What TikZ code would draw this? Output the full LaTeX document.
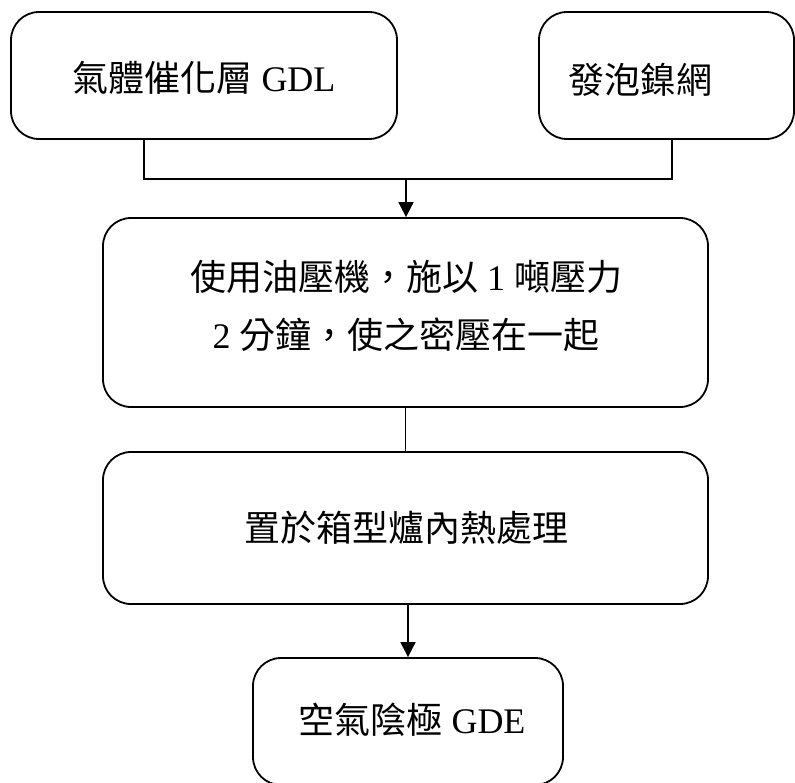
\documentclass[tikz,border=0pt]{standalone}
\usepackage{fontspec}
\setmainfont{Liberation Serif}
\newfontfamily\cjk{Noto Sans CJK TC}
\usetikzlibrary{arrows.meta}

\tikzset{
  box/.style={draw=black, line width=1.8pt, rounded corners=28pt, rectangle,
              inner sep=0pt, fill=white},
  lbl/.style={inner sep=0pt, font=\fontsize{36pt}{58pt}\selectfont, align=center},
  link/.style={line width=1.8pt, draw=black},
  flow/.style={link, -{Triangle[length=15pt, width=15pt]}}
}

\begin{document}
\begin{tikzpicture}[x=1pt, y=-1pt]
  \useasboundingbox (0,0) rectangle (795,782);

  % process boxes
  \node[box, minimum width=386pt, minimum height=127pt] (b1) at (204,75.5) {};
  \node[box, minimum width=255pt, minimum height=127pt] (b2) at (666.5,75.5) {};
  \node[box, minimum width=605pt, minimum height=189pt] (b3) at (405.5,312.5) {};
  \node[box, minimum width=605pt, minimum height=152pt] (b4) at (405.5,528) {};
  \node[box, minimum width=310pt, minimum height=127pt] (b5) at (408,721.5) {};

  % labels
  \node[lbl] (t1) at (204,78) {{\cjk 氣體催化層} GDL};
  \node[lbl] (t2) at (640,80) {{\cjk 發泡鎳網}};
  \node[lbl] (t3) at (406,306) {{\cjk 使用油壓機，施以} 1 {\cjk 噸壓力}\\2 {\cjk 分鐘，使之密壓在一起}};
  \node[lbl] (t4) at (406,528) {{\cjk 置於箱型爐內熱處理}};
  \node[lbl] (t5) at (412,720) {{\cjk 空氣陰極} GDE};

  % merge of the two inputs
  \coordinate (j) at (406,179);
  \draw[link] ([xshift=-60pt]b1.south) |- (j) -| ([xshift=5.5pt]b2.south);
  \draw[flow] (j) -- (j |- b3.north);

  % remaining steps
  \draw[link] (b3.south) -- (b4.north);
  \draw[flow] (b4.south -| b5.north) -- (b5.north);
\end{tikzpicture}
\end{document}
